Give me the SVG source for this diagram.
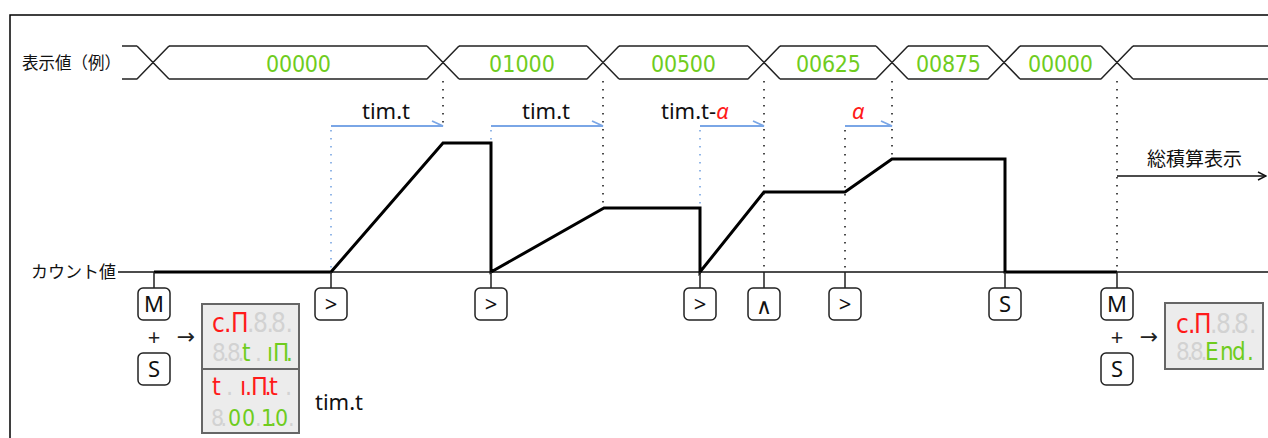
<svg xmlns="http://www.w3.org/2000/svg" width="1268" height="438" viewBox="0 0 1268 438">
<style>
.frame{fill:none;stroke:#000;stroke-width:1.5}
.bus{fill:none;stroke:#222;stroke-width:1.5}
.val{font-family:"DejaVu Sans Condensed","DejaVu Sans",sans-serif;font-stretch:condensed;font-size:23px;fill:#6fcc1e}
.jp{font-family:"Noto Sans CJK JP",sans-serif;fill:#111}
.lat{font-family:"Noto Sans","Noto Sans CJK JP",sans-serif;font-size:22px;fill:#111}
.alpha{font-style:italic;fill:#ff1a1a}
.axis{fill:none;stroke:#111;stroke-width:1.3}
.count{fill:none;stroke:#000;stroke-width:3;stroke-linejoin:miter}
.dotk{fill:none;stroke:#111;stroke-width:1.5;stroke-dasharray:1.5 6.5}
.dotb{fill:none;stroke:#6f9fe0;stroke-width:1.5;stroke-dasharray:1.5 6.5}
.barrow{fill:none;stroke:#7aa6e6;stroke-width:1.8}
.stem{fill:none;stroke:#222;stroke-width:1.5}
.key{fill:#fff;stroke:#222;stroke-width:1.5}
.keyt{font-family:"Noto Sans","DejaVu Sans",sans-serif;font-size:22px;fill:#111;text-anchor:middle}
.sym{font-family:"Noto Sans","DejaVu Sans",sans-serif;font-size:22px;fill:#222;text-anchor:middle}
.panel{fill:#ececec;stroke:#666;stroke-width:2}
.seg{font-family:"DejaVu Sans Condensed","DejaVu Sans",sans-serif;font-stretch:condensed}
.r{fill:#ff1a1a}
.g{fill:#6fcc1e}
.o{fill:#d2d2d2}
</style>
<defs>
<marker id="openhead" viewBox="0 0 10 10" refX="9" refY="5" markerWidth="10" markerHeight="10" markerUnits="userSpaceOnUse" orient="auto">
<path d="M1,1 L9,5 L1,9" fill="none" stroke="#111" stroke-width="1.5"/>
</marker>
</defs>

<path class="frame" d="M10,438 V15 H1268"/>

<g id="bus">
<text class="jp" x="22" y="69" font-size="16.5">表示値（例）</text>
<path class="bus" d="M122,46 H137 M169,46 H427 M459,46 H587 M619,46 H748 M780,46 H876 M908,46 H988 M1020,46 H1101 M1133,46 H1268
M122,79 H137 M169,79 H427 M459,79 H587 M619,79 H748 M780,79 H876 M908,79 H988 M1020,79 H1101 M1133,79 H1268
M137,46 L169,79 M137,79 L169,46
M427,46 L459,79 M427,79 L459,46
M587,46 L619,79 M587,79 L619,46
M748,46 L780,79 M748,79 L780,46
M876,46 L908,79 M876,79 L908,46
M988,46 L1020,79 M988,79 L1020,46
M1101,46 L1133,79 M1101,79 L1133,46"/>
<text class="val" x="266" y="72" textLength="65" lengthAdjust="spacing">00000</text>
<text class="val" x="489" y="72" textLength="66" lengthAdjust="spacing">01000</text>
<text class="val" x="651" y="72" textLength="65" lengthAdjust="spacing">00500</text>
<text class="val" x="796" y="72" textLength="65" lengthAdjust="spacing">00625</text>
<text class="val" x="916" y="72" textLength="65" lengthAdjust="spacing">00875</text>
<text class="val" x="1028" y="72" textLength="65" lengthAdjust="spacing">00000</text>
</g>

<g id="connectors">
<path class="axis" d="M118,272 H1268"/>
<path class="count" d="M154,272 H331 L443,143 H491 V272 L604,208 H700 V272 L764,192 H845 L892,159 H1005 V272 H1117"/>
<path class="dotb" d="M331,130 V270 M491,130 V142 M700,130 V206"/>
<path class="dotk" d="M443,81 V128 M603,81 V206 M764,81 V268 M845,130 V268 M892,81 V157 M1117,81 V268"/>
<path class="barrow" d="M331,126 H443 L432,121 M491,126 H603 L592,121 M700,126 H764 L753,121 M845,126 H892 L881,121"/>
<path class="stem" d="M154,272 V288 M331,272 V288 M491,272 V288 M700,272 V288 M764,272 V288 M845,272 V288 M1005,272 V288 M1117,272 V288"/>
<path class="axis" d="M1117,176 H1266" marker-end="url(#openhead)"/>
</g>

<g id="axis-label">
<text class="jp" x="31" y="278" font-size="17">カウント値</text>
</g>

<g id="labels">
<text class="lat" x="362" y="119">tim.t</text>
<text class="lat" x="522" y="119">tim.t</text>
<text class="lat" x="661" y="119">tim.t-<tspan class="alpha">α</tspan></text>
<text class="lat alpha" x="852" y="119">α</text>
<text class="jp" x="1147" y="166" font-size="19">総積算表示</text>
<text class="lat" x="315" y="410">tim.t</text>
</g>

<g id="key-m1">
<rect class="key" x="138" y="288" width="32" height="32" rx="5"/>
<text class="keyt" x="154" y="312">M</text>
<text class="sym" x="154" y="345">+</text>
<text class="sym" x="186" y="344">→</text>
<rect class="key" x="138" y="353" width="32" height="32" rx="5"/>
<text class="keyt" x="154" y="377">S</text>
</g>
<g id="key-up1"><rect class="key" x="315" y="288" width="32" height="32" rx="5"/><text class="keyt" x="331" y="312">&gt;</text></g>
<g id="key-up2"><rect class="key" x="475" y="288" width="32" height="32" rx="5"/><text class="keyt" x="491" y="312">&gt;</text></g>
<g id="key-up3"><rect class="key" x="684" y="288" width="32" height="32" rx="5"/><text class="keyt" x="700" y="312">&gt;</text></g>
<g id="key-hat"><rect class="key" x="748" y="288" width="32" height="32" rx="5"/><text class="keyt" x="764" y="314" font-size="26" font-weight="300">∧</text></g>
<g id="key-up4"><rect class="key" x="829" y="288" width="32" height="32" rx="5"/><text class="keyt" x="845" y="312">&gt;</text></g>
<g id="key-s"><rect class="key" x="989" y="288" width="32" height="32" rx="5"/><text class="keyt" x="1005" y="312">S</text></g>
<g id="key-m2">
<rect class="key" x="1101" y="288" width="32" height="32" rx="5"/>
<text class="keyt" x="1117" y="312">M</text>
<text class="sym" x="1117" y="345">+</text>
<text class="sym" x="1149" y="344">→</text>
<rect class="key" x="1101" y="353" width="32" height="32" rx="5"/>
<text class="keyt" x="1117" y="377">S</text>
</g>

<g id="panel-setting">
<rect class="panel" x="202" y="304" width="97" height="129"/>
<path d="M202,369 H299" stroke="#666" stroke-width="2"/>
<text class="seg" y="332" font-size="26"><tspan class="r" x="212 224 231">c.Π</tspan><tspan class="o" x="247 253 266.5 271 285.5">.8.8.</tspan></text>
<text class="seg" y="361" font-size="24"><tspan class="o" x="212 222.5 227 237.5">8.8.</tspan><tspan class="g" x="242">t</tspan><tspan class="o" x="255">.</tspan><tspan class="g" x="267 273 286">ıΠ.</tspan></text>
<text class="seg" y="395" font-size="25"><tspan class="r" x="212">t</tspan><tspan class="o" x="226">.</tspan><tspan class="r" x="240 245 251 264.5 269">ı.Π.t</tspan><tspan class="o" x="285">.</tspan></text>
<text class="seg" y="426" font-size="23"><tspan class="o" x="211 220.5">8.</tspan><tspan class="g" x="228 242">00</tspan><tspan class="o" x="255">.</tspan><tspan class="g" x="261 270 275">1.0</tspan><tspan class="o" x="288">.</tspan></text>
</g>

<g id="panel-end">
<rect class="panel" x="1165" y="303" width="98" height="66"/>
<text class="seg" y="333" font-size="26"><tspan class="r" x="1176 1188 1194">c.Π</tspan><tspan class="o" x="1210 1216 1230 1234 1249">.8.8.</tspan></text>
<text class="seg" y="360" font-size="24"><tspan class="o" x="1176 1186.5 1190 1200.5">8.8.</tspan><tspan class="g" x="1205 1220 1232 1247">End.</tspan></text>
</g>
</svg>
